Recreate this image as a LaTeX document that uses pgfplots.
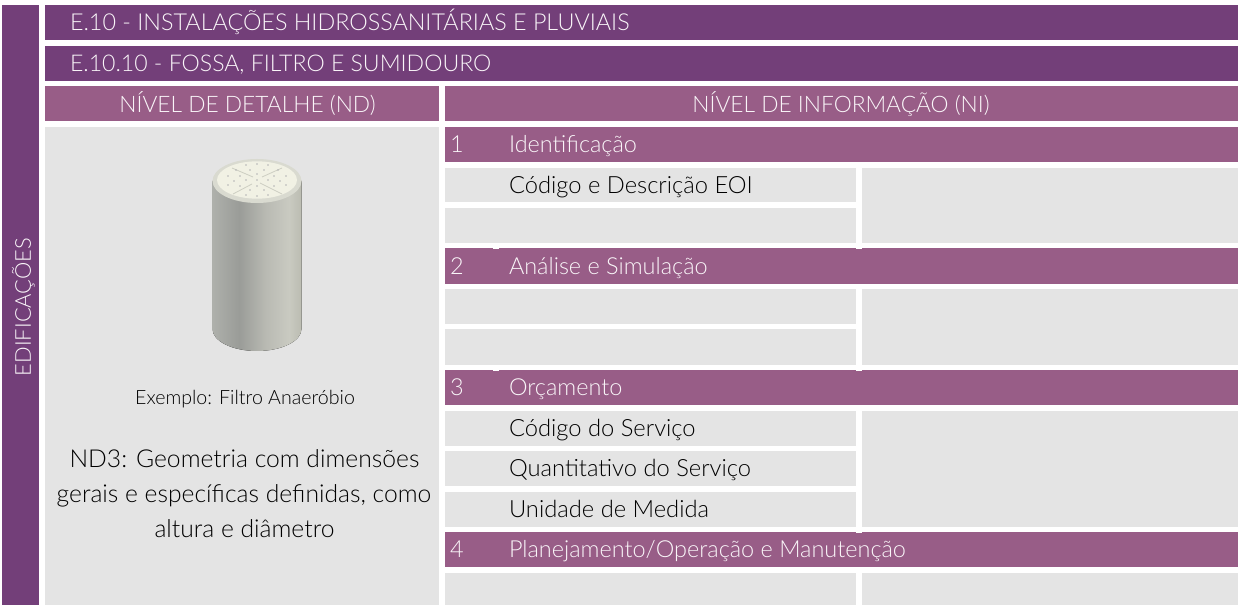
\documentclass[border=0pt]{standalone}
\usepackage{pgfplots}
\pgfplotsset{compat=1.18}
\usepackage{fontspec}
\setmainfont{Lato Light}
\definecolor{dk}{HTML}{733F79}
\definecolor{md}{HTML}{985D87}
\definecolor{gr}{HTML}{E4E4E4}
\definecolor{tx}{HTML}{FAF6F9}
\definecolor{c1}{HTML}{AEB0AB}
\definecolor{c2}{HTML}{9A9C98}
\definecolor{c3}{HTML}{B9BAB3}
\definecolor{c4}{HTML}{C9CAC1}
\definecolor{c5}{HTML}{BBBCB1}
\definecolor{ring}{HTML}{D9DAD0}
\definecolor{top}{HTML}{F1F1E4}
\definecolor{gv}{HTML}{CDCEC2}
\pgfdeclarehorizontalshading{cyl}{100bp}{color(0bp)=(c1);color(25bp)=(c1);color(40bp)=(c2);color(55bp)=(c3);color(68bp)=(c4);color(75bp)=(c5);color(100bp)=(c5)}
\newcommand\rect[5]{\addplot[fill=#1,draw=none,forget plot] coordinates {(#2,#3) (#4,#3) (#4,#5) (#2,#5)} --cycle;}
\tikzset{H/.style={inner sep=0pt,outer sep=0pt,anchor=base west,text=tx,font=\fontsize{17.6}{17.6}\selectfont},
 Hc/.style={inner sep=0pt,outer sep=0pt,anchor=base,text=tx,font=\fontsize{17.05}{17.05}\selectfont},
 B/.style={inner sep=0pt,outer sep=0pt,anchor=base west,text=black,font=\fontsize{17.8}{17.8}\selectfont},
 Bc/.style={inner sep=0pt,outer sep=0pt,anchor=base,text=black,font=\fontsize{18.5}{18.5}\selectfont}}
\begin{document}
\begin{tikzpicture}[x=1pt,y=1pt]
\begin{axis}[scale only axis,width=928.5pt,height=453.75pt,xmin=0,xmax=1238,ymin=0,ymax=605,y dir=reverse,hide axis,clip=true]
\rect{white}{0}{0}{1238}{605}
% frame
\rect{dk}{2}{5}{39}{605}
\rect{dk}{45}{5}{1238}{40}
\rect{dk}{45}{46}{1238}{81}
\rect{md}{45}{86}{439}{121}
\rect{md}{445}{86}{1238}{121}
\rect{gr}{45}{127}{439}{605}
% rows
\rect{md}{445}{127}{1238}{162}
\rect{gr}{445}{168}{856}{202}
\rect{gr}{445}{208}{856}{243}
\rect{gr}{862}{168}{1238}{243}
\rect{md}{445}{248}{1238}{284}
\rect{gr}{445}{289}{856}{324}
\rect{gr}{445}{329}{856}{365}
\rect{gr}{862}{289}{1238}{365}
\rect{md}{445}{370}{1238}{405}
\rect{gr}{445}{411}{856}{446}
\rect{gr}{445}{451}{856}{486}
\rect{gr}{445}{492}{856}{527}
\rect{gr}{862}{411}{1238}{527}
\rect{md}{445}{532}{1238}{567}
\rect{gr}{445}{573}{856}{605}
\rect{gr}{862}{573}{1238}{605}
% small notches
\rect{white}{493}{248}{499}{249}
\rect{white}{856}{248}{862}{249}
\rect{white}{493}{370}{499}{371}
\rect{white}{856}{370}{862}{371}
\rect{white}{856}{532}{862}{533}
% cylinder
\fill[shading=cyl] (axis cs:212.5,181) -- (axis cs:212.5,329) arc[start angle=180,end angle=360,x radius=33.375pt,y radius=16.5pt] -- (axis cs:301.5,181) -- cycle;
\fill[ring] (axis cs:257,181) ellipse[x radius=33.375pt,y radius=16.5pt];
\fill[top] (axis cs:257,180) ellipse[x radius=30pt,y radius=14pt];
\addplot[draw=gv,line width=.6pt,forget plot] coordinates {(232,168) (253,177)};
\addplot[draw=gv,line width=.6pt,forget plot] coordinates {(260,183) (282,194)};
\addplot[draw=gv,line width=.6pt,forget plot] coordinates {(282,168) (262,177)};
\addplot[draw=gv,line width=.6pt,forget plot] coordinates {(252,184) (233,194)};
\addplot[only marks,mark=*,mark size=.35pt,color=black!28!white,forget plot] coordinates {
(257,164)(246,165)(268,165)(236,170)(278,170)(250,170)(264,170)(228,176)(240,176)(286,176)(274,176)(257,174)
(234,181)(246,180)(268,180)(280,181)(257,180)(228,185)(240,186)(286,185)(274,186)(250,190)(264,190)(257,186)(246,195)(268,195)(257,196)};
% text
\node[H,font=\fontsize{17.5}{17.5}\selectfont] at (axis cs:70,31) {E.10 - INSTALAÇÕES HIDROSSANITÁRIAS E PLUVIAIS};
\node[H,font=\fontsize{17.3}{17.3}\selectfont] at (axis cs:70,71.7) {E.10.10 - FOSSA, FILTRO E SUMIDOURO};
\node[Hc] at (axis cs:247.5,112.7) {NÍVEL DE DETALHE (ND)};
\node[Hc] at (axis cs:841,112.7) {NÍVEL DE INFORMAÇÃO (NI)};
\node[rotate=90,inner sep=0pt,outer sep=0pt,anchor=base,text=tx,font=\fontsize{16.4}{16.4}\selectfont] at (axis cs:31,307) {EDIFICAÇÕES};
\node[H] at (axis cs:450,152.7) {1};
\node[H] at (axis cs:509,152.7) {Identificação};
\node[H] at (axis cs:450,275) {2};
\node[H] at (axis cs:509,275) {Análise e Simulação};
\node[H] at (axis cs:450,396) {3};
\node[H] at (axis cs:509,396) {Orçamento};
\node[H] at (axis cs:450,557.7) {4};
\node[H] at (axis cs:509,557.7) {Planejamento/Operação e Manutenção};
\node[B] at (axis cs:509,193.7) {Código e Descrição EOI};
\node[B] at (axis cs:509,436) {Código do Serviço};
\node[B] at (axis cs:509,476) {Quantitativo do Serviço};
\node[B] at (axis cs:509,517) {Unidade de Medida};
\node[Bc,font=\fontsize{14.7}{14.7}\selectfont] at (axis cs:245,405) {Exemplo: Filtro Anaeróbio};
\node[Bc] at (axis cs:244.5,467.7) {ND3: Geometria com dimensões};
\node[Bc] at (axis cs:244,502.7) {gerais e específicas definidas, como};
\node[Bc] at (axis cs:244.5,537.3) {altura e diâmetro};
\end{axis}
\end{tikzpicture}
\end{document}
